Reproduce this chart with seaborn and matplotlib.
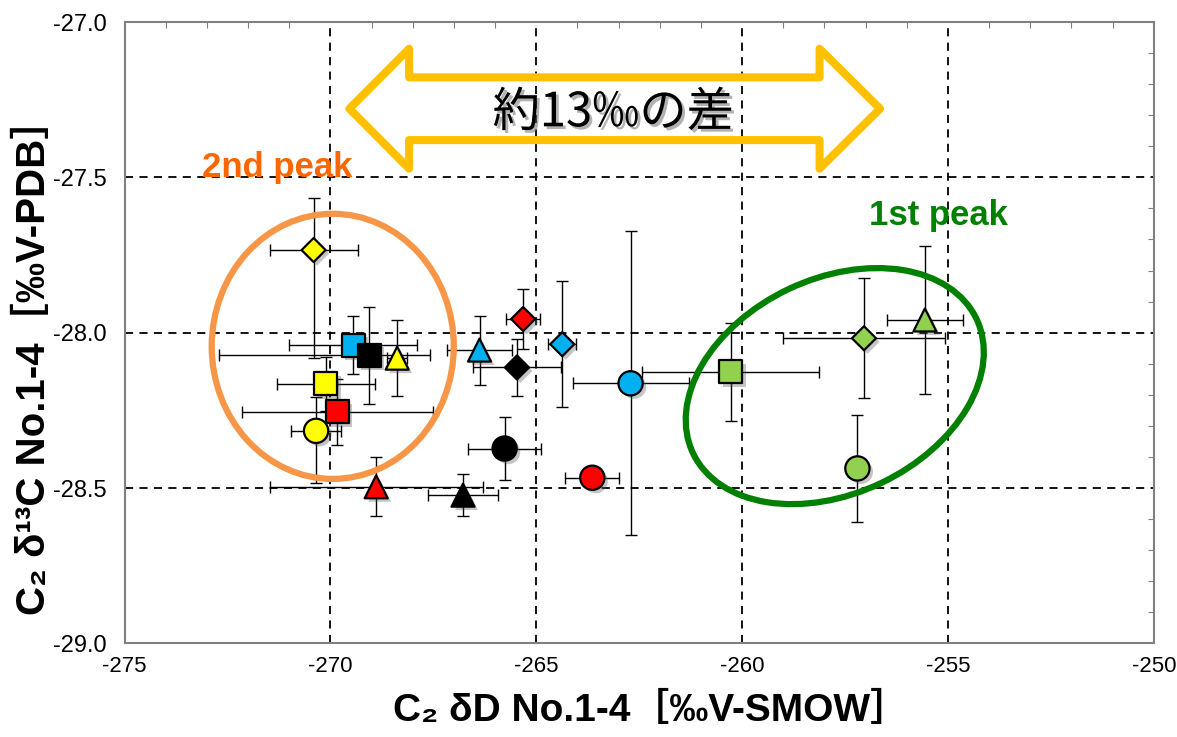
import matplotlib
matplotlib.use('Agg')
import matplotlib.pyplot as plt
import matplotlib.patheffects as pe
from matplotlib.patches import Ellipse, Polygon
from matplotlib.transforms import Affine2D
from matplotlib.ticker import MultipleLocator, FormatStrFormatter
import numpy as np
import pandas as pd
import seaborn as sns

# Sample (colour) and run number (marker) for every point
sample = ['A'] * 4 + ['B'] * 4 + ['C'] * 4 + ['D'] * 4 + ['E'] * 4
number = ['No.1', 'No.2', 'No.3', 'No.4'] * 5

# C2 dD [permil V-SMOW]
dD = [-269.83, -263.64, -268.89, -265.32,
      -270.11, -270.35, -268.38, -270.41,
      -269.45, -262.71, -266.38, -264.37,
      -269.06, -265.77, -266.78, -265.47,
      -260.28, -257.20, -255.56, -257.04]
dD_err_lo = [2.33, 0.66, 2.59, 0.41,
             1.18, 0.60, 0.25, 1.07,
             1.55, 1.41, 0.78, 0.34,
             3.66, 0.89, 0.84, 1.08,
             2.15, 0.25, 0.93, 1.97]
dD_err_hi = [2.33, 0.66, 2.59, 0.41,
             1.18, 0.60, 0.25, 1.07,
             1.55, 1.41, 0.78, 0.34,
             1.47, 0.89, 0.84, 1.08,
             2.15, 0.25, 0.93, 1.97]

# C2 d13C [permil V-PDB]
d13C = [-28.255, -28.467, -28.496, -27.956,
        -28.165, -28.316, -28.082, -27.734,
        -28.040, -28.163, -28.056, -28.037,
        -28.072, -28.373, -28.523, -28.112,
        -28.126, -28.437, -27.959, -28.018]
d13C_err_lo = [0.107, 0.030, 0.095, 0.097,
               0.087, 0.168, 0.123, 0.348,
               0.093, 0.489, 0.111, 0.203,
               0.156, 0.100, 0.068, 0.093,
               0.157, 0.173, 0.239, 0.193]
d13C_err_hi = [0.107, 0.030, 0.095, 0.097,
               0.087, 0.109, 0.123, 0.167,
               0.093, 0.489, 0.111, 0.203,
               0.156, 0.100, 0.068, 0.093,
               0.157, 0.173, 0.239, 0.193]

x_ticks = [-275, -270, -265, -260, -255, -250]
y_ticks = [-29.0, -28.5, -28.0, -27.5, -27.0]

palette = {'A': '#FF0000', 'B': '#FFFF00', 'C': '#00B0F0',
           'D': '#000000', 'E': '#92D050'}
markers = {'No.1': 's', 'No.2': 'o', 'No.3': '^', 'No.4': 'D'}
sizes = {'No.1': 275, 'No.2': 305, 'No.3': 275, 'No.4': 150}

df = pd.DataFrame({'sample': sample, 'number': number, 'dD': dD, 'd13C': d13C})

sns.set_theme(style='white')
plt.rcParams['font.family'] = ['Liberation Sans', 'DejaVu Sans', 'Noto Sans CJK JP']
plt.rcParams['axes.unicode_minus'] = False
plt.rcParams['text.color'] = 'black'
plt.rcParams['axes.labelcolor'] = 'black'

W, H = 1177, 737
fig = plt.figure(figsize=(W / 100, H / 100), dpi=100)
ax = fig.add_axes([0.1059, 0.1271, 0.8744, 0.8430])

# error bars
ax.errorbar(dD, d13C, xerr=[dD_err_lo, dD_err_hi], yerr=[d13C_err_lo, d13C_err_hi],
            fmt='none', ecolor='black', elinewidth=1.0, capsize=4, capthick=1.0, zorder=2)

# markers
sns.scatterplot(data=df, x='dD', y='d13C', hue='sample', style='number', size='number',
                palette=palette, markers=markers, sizes=sizes, edgecolor='black',
                linewidth=1.6, legend=False, zorder=3, ax=ax)
ax.collections[-1].set_path_effects([
    pe.SimplePatchShadow(offset=(2.5, -2.5), shadow_rgbFace='0.35', alpha=0.35),
    pe.Normal()])

ax.set_xlim(-275, -250)
ax.set_ylim(-29, -27)
ax.set_xticks(x_ticks)
ax.set_yticks(y_ticks)
ax.xaxis.set_minor_locator(MultipleLocator(1))
ax.yaxis.set_minor_locator(MultipleLocator(0.1))
ax.yaxis.set_major_formatter(FormatStrFormatter('%.1f'))
ax.grid(which='major', color='black', linestyle=(0, (4.5, 3.5)), linewidth=1.3)
ax.tick_params(which='both', direction='in', top=True, right=True, color='gray')
ax.tick_params(which='major', length=0, labelcolor='black')
ax.tick_params(which='minor', length=4, width=0.8)
ax.tick_params(axis='y', which='major', pad=13, labelsize=17)
ax.tick_params(axis='x', which='major', pad=9, labelsize=16)
for sp in ax.spines.values():
    sp.set_color('gray')
    sp.set_linewidth(1.5)

ax.set_xlabel('C₂ δD No.1-4［‰V-SMOW］', fontsize=28, fontweight='bold')
ax.set_ylabel('C₂ δ¹³C No.1-4［‰V-PDB］', fontsize=29, fontweight='bold')
ax.xaxis.set_label_coords(0.511, -0.08)
ax.yaxis.set_label_coords(-0.07, 0.462)

# transform where one y-unit spans as many pixels as one x-unit
pos = ax.get_position()
px_per_x = pos.width * W / 25.0
px_per_y = pos.height * H / 2.0
k = px_per_x / px_per_y
iso = Affine2D().scale(1, k) + ax.transData

ax.add_patch(Ellipse((-269.945, -28.044 / k), 5.88, 6.44, angle=0, transform=iso,
                     fill=False, edgecolor='#F79646', linewidth=4.5, zorder=2.5))
ax.add_patch(Ellipse((-257.75, -28.172 / k), 7.62, 5.22, angle=25.3, transform=iso,
                     fill=False, edgecolor='#008000', linewidth=4.5, zorder=2.5))

# double-headed hollow arrow
yc, hh, sh = -27.279, 0.193, 0.101
xl, xlb, xrb, xr = -269.54, -268.09, -258.12, -256.65
arrow = [(xl, yc), (xlb, yc + hh), (xlb, yc + sh), (xrb, yc + sh), (xrb, yc + hh),
         (xr, yc), (xrb, yc - hh), (xrb, yc - sh), (xlb, yc - sh), (xlb, yc - hh)]
ax.add_patch(Polygon(arrow, closed=True, fill=False, edgecolor='#FFC000',
                     linewidth=5.8, joinstyle='round', zorder=4))
ax.text(-263.13, -27.293, '約13‰の差', ha='center', va='center', fontsize=34,
        family=['Noto Sans CJK JP', 'DejaVu Sans'], color='black', zorder=5,
        path_effects=[pe.withSimplePatchShadow(offset=(2, -2), shadow_rgbFace='0.4', alpha=0.5)])

ax.text(-271.30, -27.5, '2nd peak', ha='center', va='baseline', fontsize=25,
        fontweight='bold', color='#FF6600', zorder=5)
ax.text(-255.24, -27.654, '1st peak', ha='center', va='baseline', fontsize=25,
        fontweight='bold', color='#008000', zorder=5)

fig.savefig('out.png', dpi=100)
plt.close(fig)
